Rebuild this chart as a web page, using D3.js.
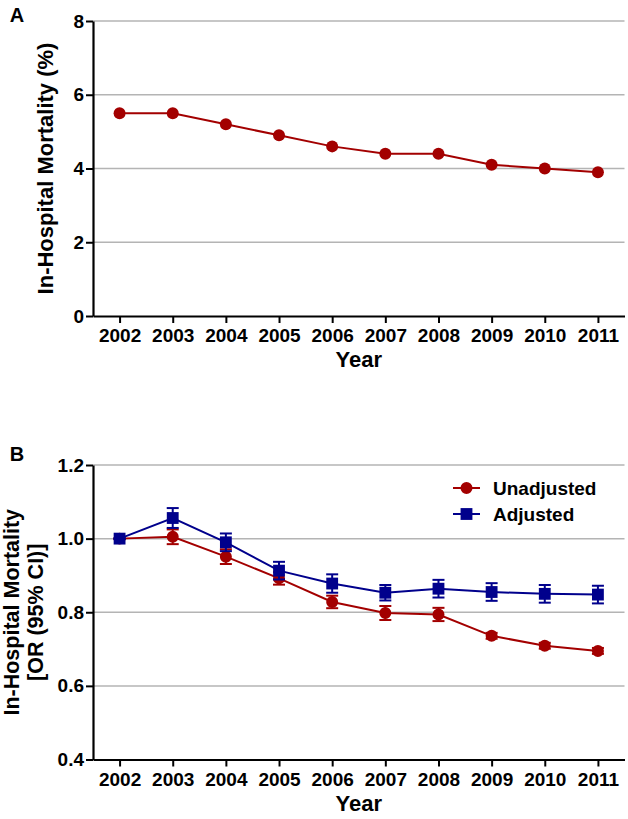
<!DOCTYPE html>
<html>
<head>
<meta charset="utf-8">
<script src="https://cdn.jsdelivr.net/npm/d3@7"></script>
<style>
  body { margin: 0; background: #fff; }
  text { font-family: "Liberation Sans", Arial, sans-serif; font-weight: bold; }
</style>
</head>
<body>
<svg class="canvas"></svg>
<script>
const years = [2002, 2003, 2004, 2005, 2006, 2007, 2008, 2009, 2010, 2011];

// panel A: crude in-hospital mortality (%)
const mortality = [5.5, 5.5, 5.2, 4.9, 4.6, 4.4, 4.4, 4.1, 4.0, 3.9];
const ticksA = [0, 2, 4, 6, 8];

// panel B: odds ratios with 95% CI
const unadjOR = [1.0, 1.005, 0.951, 0.892, 0.828, 0.798, 0.794, 0.736, 0.709, 0.695];
const unadjLo = [1.0, 0.985, 0.931, 0.875, 0.811, 0.779, 0.776, 0.728, 0.701, 0.687];
const unadjHi = [1.0, 1.025, 0.971, 0.909, 0.845, 0.817, 0.812, 0.744, 0.717, 0.703];
const adjOR = [1.0, 1.056, 0.990, 0.913, 0.878, 0.853, 0.864, 0.855, 0.850, 0.848];
const adjLo = [1.0, 1.029, 0.966, 0.889, 0.853, 0.832, 0.840, 0.831, 0.826, 0.824];
const adjHi = [1.0, 1.083, 1.014, 0.937, 0.903, 0.874, 0.888, 0.879, 0.874, 0.872];
const ticksB = [0.4, 0.6, 0.8, 1.0, 1.2];

const seriesNames = ['Unadjusted', 'Adjusted'];

const w = 628;
const h = 819;
const red = '#a30000';
const blue = '#00008c';
const gridColor = '#b4b4b4';

const svg = d3.select('svg.canvas')
  .attr('width', w)
  .attr('height', h);

const xScale = d3.scaleLinear()
  .domain([2001.5, 2011.5])
  .range([93, 624.5]);

let drawFrame = (g, yScale, ticks, fmt, top, bottom) => {
  // grid lines except the bottom one
  g.selectAll('line.grid')
    .data(ticks.slice(1))
    .enter()
    .append('line')
    .attr('class', 'grid')
    .attr('x1', xScale.range()[0])
    .attr('x2', xScale.range()[1])
    .attr('y1', d => yScale(d))
    .attr('y2', d => yScale(d))
    .attr('stroke', gridColor)
    .attr('stroke-width', 1.5);

  let yAxis = d3.axisLeft(yScale)
    .tickValues(ticks)
    .tickFormat(fmt)
    .tickSize(7)
    .tickPadding(2)
    .tickSizeOuter(0);

  let xAxis = d3.axisBottom(xScale)
    .tickValues(years)
    .tickFormat(d3.format('d'))
    .tickSize(7)
    .tickPadding(6)
    .tickSizeOuter(0);

  let ya = g.append('g')
    .attr('transform', 'translate(' + xScale.range()[0] + ', 0)')
    .call(yAxis);

  let xa = g.append('g')
    .attr('transform', 'translate(0, ' + bottom + ')')
    .call(xAxis);

  [ya, xa].forEach(a => {
    a.select('.domain').attr('stroke', '#000').attr('stroke-width', 2.2);
    a.selectAll('.tick line').attr('stroke', '#000').attr('stroke-width', 2);
    a.selectAll('.tick text')
      .attr('fill', '#000')
      .style('font-size', '19px');
  });

  g.append('text')
    .attr('x', (xScale.range()[0] + xScale.range()[1]) / 2)
    .attr('y', bottom + 51)
    .attr('text-anchor', 'middle')
    .style('font-size', '22px')
    .text('Year');
}

let drawPanelA = () => {
  let top = 21, bottom = 316;
  let yScale = d3.scaleLinear().domain([0, 8]).range([bottom, top]);
  let g = svg.append('g');

  drawFrame(g, yScale, ticksA, d3.format('d'), top, bottom);

  g.append('text')
    .attr('x', 17)
    .attr('y', 22)
    .attr('text-anchor', 'middle')
    .style('font-size', '20px')
    .text('A');

  g.append('text')
    .attr('transform', 'translate(53, ' + (top + bottom) / 2 + ') rotate(-90)')
    .attr('text-anchor', 'middle')
    .style('font-size', '22px')
    .text('In-Hospital Mortality (%)');

  let line = d3.line()
    .x((d, i) => xScale(years[i]))
    .y(d => yScale(d));

  g.append('path')
    .datum(mortality)
    .attr('d', line)
    .attr('fill', 'none')
    .attr('stroke', red)
    .attr('stroke-width', 2);

  g.selectAll('circle')
    .data(mortality)
    .enter()
    .append('circle')
    .attr('cx', (d, i) => xScale(years[i]))
    .attr('cy', d => yScale(d))
    .attr('r', 6)
    .attr('fill', red);
}

let drawSeries = (g, yScale, vals, lo, hi, color, shape) => {
  let line = d3.line()
    .x((d, i) => xScale(years[i]))
    .y(d => yScale(d));

  g.append('path')
    .datum(vals)
    .attr('d', line)
    .attr('fill', 'none')
    .attr('stroke', color)
    .attr('stroke-width', 2);

  // error bars
  let eb = g.append('g')
    .attr('stroke', color)
    .attr('stroke-width', 2);

  years.forEach((yr, i) => {
    let x = xScale(yr);
    eb.append('line')
      .attr('x1', x).attr('x2', x)
      .attr('y1', yScale(lo[i])).attr('y2', yScale(hi[i]));
    [lo[i], hi[i]].forEach(v => {
      eb.append('line')
        .attr('x1', x - 6).attr('x2', x + 6)
        .attr('y1', yScale(v)).attr('y2', yScale(v));
    });
  });

  let sym = d3.symbol()
    .type(shape)
    .size(shape === d3.symbolSquare ? 140 : 113);

  g.selectAll('path.mark' + color.slice(1))
    .data(vals)
    .enter()
    .append('path')
    .attr('class', 'mark' + color.slice(1))
    .attr('d', sym)
    .attr('transform', (d, i) => 'translate(' + xScale(years[i]) + ', ' + yScale(d) + ')')
    .attr('fill', color);
}

let drawPanelB = () => {
  let top = 465, bottom = 759.5;
  let yScale = d3.scaleLinear().domain([0.4, 1.2]).range([bottom, top]);
  let g = svg.append('g');

  drawFrame(g, yScale, ticksB, d3.format('.1f'), top, bottom);

  g.append('text')
    .attr('x', 17)
    .attr('y', 461)
    .attr('text-anchor', 'middle')
    .style('font-size', '20px')
    .text('B');

  let lab = g.append('text')
    .attr('transform', 'translate(0, ' + (top + bottom) / 2 + ') rotate(-90)')
    .attr('text-anchor', 'middle')
    .style('font-size', '21.5px');
  lab.append('tspan').attr('x', 0).attr('y', 19).text('In-Hospital Mortality');
  lab.append('tspan').attr('x', 0).attr('y', 43).text('[OR (95% CI)]');

  drawSeries(g, yScale, unadjOR, unadjLo, unadjHi, red, d3.symbolCircle);
  drawSeries(g, yScale, adjOR, adjLo, adjHi, blue, d3.symbolSquare);

  // legend
  let legend = g.append('g');
  let colors = [red, blue];
  let shapes = [d3.symbolCircle, d3.symbolSquare];
  seriesNames.forEach((name, i) => {
    let ly = 488 + i * 26;
    legend.append('line')
      .attr('x1', 453).attr('x2', 480)
      .attr('y1', ly).attr('y2', ly)
      .attr('stroke', colors[i])
      .attr('stroke-width', 2);
    legend.append('path')
      .attr('d', d3.symbol().type(shapes[i]).size(i ? 140 : 113))
      .attr('transform', 'translate(466.5, ' + ly + ')')
      .attr('fill', colors[i]);
    legend.append('text')
      .attr('x', 493)
      .attr('y', ly + 7)
      .style('font-size', '19px')
      .text(name);
  });
}

drawPanelA();
drawPanelB();
</script>
</body>
</html>
